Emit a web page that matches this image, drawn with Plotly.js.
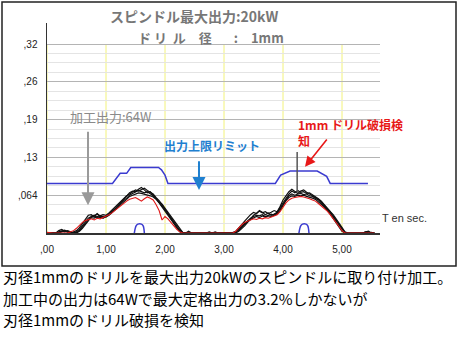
<!DOCTYPE html>
<html>
<head>
<meta charset="utf-8">
<script src="https://cdn.plot.ly/plotly-3.0.1.min.js"></script>
<style>html,body{margin:0;padding:0;background:#fff;}#chart{width:467px;height:353px;}</style>
</head>
<body>
<div id="chart"></div>
<script>
// ---- data ----
var t = [0,0.05,0.1,0.15,0.2,0.25,0.3,0.35,0.4,0.45,
0.5,0.55,0.6,0.65,0.7,0.75,0.8,0.85,0.9,0.95,
1,1.05,1.1,1.15,1.2,1.25,1.3,1.35,1.4,1.45,
1.5,1.55,1.6,1.65,1.7,1.75,1.8,1.85,1.9,1.95,
2,2.05,2.1,2.15,2.2,2.25,2.3,2.35,2.4,2.45,
2.5,2.55,2.6,2.65,2.7,2.75,2.8,2.85,2.9,2.95,
3,3.05,3.1,3.15,3.2,3.25,3.3,3.35,3.4,3.45,
3.5,3.55,3.6,3.65,3.7,3.75,3.8,3.85,3.9,3.95,
4,4.05,4.1,4.15,4.2,4.25,4.3,4.35,4.4,4.45,
4.5,4.55,4.6,4.65,4.7,4.75,4.8,4.85,4.9,4.95,
5,5.05,5.1,5.15,5.2,5.25,5.3,5.35,5.4,5.45,
5.5,5.55];

var black1 = [0,0,0,0,0.004,0.006,0.003,0.001,0,0.002,
0.004,0.009,0.016,0.024,0.030,0.031,0.027,0.033,0.029,0.031,
0.030,0.034,0.039,0.043,0.049,0.054,0.058,0.063,0.066,0.070,
0.073,0.071,0.074,0.076,0.072,0.069,0.066,0.060,0.055,0.048,
0.040,0.032,0.025,0.017,0.009,0.003,0,0,0.003,0,
0,0,0,0,0,0.002,0,0,0,0,
0,0,0,0,0.003,0.008,0.014,0.020,0.026,0.031,
0.035,0.033,0.037,0.034,0.036,0.033,0.035,0.038,0.036,0.044,
0.052,0.060,0.066,0.071,0.068,0.072,0.069,0.070,0.067,0.068,
0.065,0.062,0.058,0.054,0.048,0.043,0.036,0.029,0.022,0.014,
0.006,0.001,0,0,0,0,0,0,0.002,0.003,
0,0];

var black2 = [0,0,0,0,0.002,0.004,0.005,0.002,0,0,
0.002,0.006,0.012,0.019,0.025,0.028,0.030,0.026,0.029,0.027,
0.029,0.031,0.035,0.040,0.046,0.050,0.055,0.059,0.064,0.067,
0.069,0.072,0.070,0.068,0.070,0.067,0.063,0.058,0.052,0.046,
0.039,0.033,0.026,0.019,0.012,0.005,0.001,0,0,0,
0,0,0,0,0,0,0,0.002,0,0,
0,0,0,0.001,0.002,0.006,0.011,0.016,0.021,0.025,
0.028,0.030,0.029,0.031,0.028,0.030,0.032,0.030,0.034,0.041,
0.048,0.057,0.063,0.066,0.064,0.066,0.067,0.065,0.066,0.063,
0.062,0.059,0.056,0.051,0.046,0.040,0.034,0.027,0.020,0.012,
0.005,0,0,0,0,0,0,0,0,0,
0,0];

var black3 = [0,0,0,0,0.001,0.003,0.002,0.004,0.002,0,
0.001,0.004,0.010,0.017,0.022,0.026,0.025,0.028,0.026,0.028,
0.027,0.030,0.034,0.038,0.043,0.048,0.052,0.057,0.062,0.064,
0.066,0.068,0.067,0.066,0.065,0.063,0.061,0.057,0.051,0.044,
0.036,0.030,0.024,0.016,0.008,0.002,0,0,0,0,
0,0,0,0,0,0,0,0,0,0,
0,0,0,0,0.001,0.005,0.010,0.014,0.019,0.023,
0.026,0.028,0.026,0.029,0.027,0.029,0.028,0.030,0.032,0.038,
0.047,0.055,0.060,0.063,0.062,0.064,0.063,0.064,0.062,0.061,
0.059,0.057,0.053,0.049,0.044,0.039,0.032,0.025,0.018,0.010,
0.003,0,0,0,0,0,0,0,0,0,
0,0];

var black4 = [0,0,0,0,0,0.002,0.004,0.003,0.001,0,
0,0.003,0.008,0.015,0.021,0.027,0.029,0.032,0.028,0.025,
0.028,0.033,0.037,0.041,0.047,0.052,0.057,0.062,0.068,0.071,
0.070,0.074,0.077,0.073,0.068,0.070,0.064,0.059,0.053,0.049,
0.042,0.035,0.028,0.020,0.013,0.006,0.001,0,0,0,
0,0,0,0,0,0,0,0,0,0,
0,0,0,0,0,0.003,0.007,0.012,0.018,0.024,
0.030,0.033,0.038,0.035,0.031,0.034,0.030,0.032,0.035,0.045,
0.056,0.063,0.070,0.074,0.070,0.067,0.071,0.073,0.069,0.066,
0.064,0.061,0.057,0.052,0.047,0.042,0.037,0.031,0.024,0.016,
0.008,0.002,0,0,0,0,0,0,0.002,0,
0.001,0];

var red1 = [0.001,0,0,0,0,0,0,0,0.002,0.004,
0.008,0.013,0.018,0.021,0.023,0.024,0.022,0.025,0.024,0.026,
0.028,0.031,0.034,0.038,0.042,0.047,0.051,0.054,0.057,0.058,
0.060,0.057,0.054,0.058,0.061,0.059,0.056,0.048,0.038,0.022,
0.028,0.024,0.018,0.012,0.006,0.002,0,0,0,0,
0,0,0,0,0,0,0,0,0,0,
0,0,0,0,0.003,0.009,0.014,0.018,0.020,0.022,
0.024,0.023,0.025,0.024,0.026,0.025,0.027,0.029,0.031,0.036,
0.044,0.051,0.056,0.059,0.060,0.061,0.062,0.061,0.060,0.058,
0.056,0.054,0.050,0.046,0.042,0.037,0.031,0.025,0.018,0.011,
0.004,0,0,0,0,0,0,0,0,0,
0,0];

var limitT = [0,1.11,1.24,1.35,1.42,1.89,1.94,2.00,2.05,3.87,3.96,4.02,4.12,4.58,4.66,4.74,4.80,5.44];
var limitV = [0.084,0.084,0.101,0.101,0.111,0.111,0.107,0.098,0.084,0.084,0.098,0.101,0.105,0.105,0.101,0.096,0.084,0.084];

var pulseT = [1.48,1.51,1.54,1.60,1.63,1.65,null,4.27,4.30,4.33,4.39,4.42,4.44];
var pulseV = [0,0.012,0.015,0.015,0.012,0,null,0,0.012,0.015,0.015,0.012,0];

var detectT = [4.24,4.24];
var detectV = [0.137,0.068];

var xTickVals = [0,1,2,3,4,5];
var xTickText = [',00','1,00','2,00','3,00','4,00','5,00'];
var yTickVals = [0.064,0.128,0.192,0.256,0.32];
var yTickText = [',064',',13',',19',',26',',32'];
var yMinorVals = [0.016,0.032,0.048,0.08,0.096,0.112,0.144,0.16,0.176,0.208,0.224,0.24,0.272,0.288,0.304];
var yellowX = [0,1,2,3,4,5];

var titleLine1 = 'スピンドル最大出力:20kW';
var titleLine2 = 'ド\u00a0リ\u00a0\u00a0ル\u3000径\u3000\u00a0\u00a0\u00a0:\u30001mm';
var noteLines = ['刃径1mmのドリルを最大出力20kWのスピンドルに取り付け加工。',
                 '加工中の出力は64Wで最大定格出力の3.2%しかないが',
                 '刃径1mmのドリル破損を検知'];

// ---- layout helpers (pixel -> paper) ----
var L = 47, T = 23, W = 333, H = 210;
function PX(x){ return (x - L) / W; }
function PY(y){ return (T + H - y) / H; }

var jp = "Noto Sans CJK JP, sans-serif";

var traces = [];
traces.push({x: limitT, y: limitV, mode: 'lines', line: {color: '#3b3bd0', width: 1.5}, hoverinfo: 'skip'});
traces.push({x: pulseT, y: pulseV, mode: 'lines', line: {color: '#3b3bd0', width: 1.5, shape: 'spline'}, connectgaps: false, hoverinfo: 'skip'});
[black1, black2, black3, black4].forEach(function(s){
  traces.push({x: t, y: s, mode: 'lines', line: {color: '#111', width: 1.2}, hoverinfo: 'skip'});
});
traces.push({x: t, y: red1, mode: 'lines', line: {color: '#e01818', width: 1.1}, hoverinfo: 'skip'});
traces.push({x: detectT, y: detectV, mode: 'lines', line: {color: '#555', width: 1.5}, hoverinfo: 'skip'});

var shapes = yellowX.map(function(v){
  return {type: 'line', xref: 'x', yref: 'y', x0: v, x1: v, y0: 0, y1: 0.32, layer: 'below',
          line: {color: '#f2f27a', width: 1}};
});
shapes.push({type: 'rect', xref: 'paper', yref: 'paper', x0: PX(2), x1: PX(456), y0: PY(266), y1: PY(2),
             line: {color: '#222', width: 1.5}, layer: 'above'});

var titleFont = {family: jp, size: 14, color: '#777', weight: 'bold'};
var line2Font = {family: jp, size: 13, color: '#777', weight: 'bold'};

var annotations = [
  {text: titleLine1, xref: 'paper', yref: 'paper', x: PX(194), y: PY(16), showarrow: false,
   font: titleFont, xanchor: 'center', yanchor: 'middle', borderpad: 0},
  {text: titleLine2, xref: 'paper', yref: 'paper', x: PX(137), y: PY(37), showarrow: false,
   font: line2Font, xanchor: 'left', yanchor: 'middle', borderpad: 0},

  {text: '加工出力:64W', xref: 'paper', yref: 'paper', x: PX(68), y: PY(116), xanchor: 'left', showarrow: false,
   font: {family: jp, size: 13, color: '#8a8a8a'}},
  {text: '', xref: 'x', yref: 'y', x: 0.695, y: 0.047, axref: 'x', ayref: 'y', ax: 0.695, ay: 0.174,
   showarrow: true, arrowhead: 2, arrowsize: 1.3, arrowwidth: 2, arrowcolor: '#9a9a9a', standoff: 0},

  {text: '出力上限リミット', xref: 'paper', yref: 'paper', x: PX(162), y: PY(145), xanchor: 'left', showarrow: false,
   font: {family: jp, size: 12, color: '#1f80d0', weight: 'bold'}},
  {text: '', xref: 'x', yref: 'y', x: 2.576, y: 0.073, axref: 'x', ayref: 'y', ax: 2.576, ay: 0.124,
   showarrow: true, arrowhead: 2, arrowsize: 1.3, arrowwidth: 2, arrowcolor: '#1f80d0', standoff: 0},

  {text: '1mm ドリル破損検<br>知', xref: 'paper', yref: 'paper', x: PX(296), y: PY(114), xanchor: 'left', yanchor: 'top',
   align: 'left', showarrow: false, font: {family: jp, size: 12, color: '#e81818', weight: 'bold'}},
  {text: '', xref: 'x', yref: 'y', x: 4.373, y: 0.112, axref: 'x', ayref: 'y', ax: 4.763, ay: 0.161,
   showarrow: true, arrowhead: 2, arrowsize: 1.3, arrowwidth: 1.6, arrowcolor: '#e81818', standoff: 0},

  {text: 'T en sec.', xref: 'paper', yref: 'paper', x: PX(380), y: PY(226), xanchor: 'left', showarrow: false,
   font: {family: 'Liberation Sans, Arial, sans-serif', size: 11, color: '#333'}}
];
var noteY = [289, 311, 332];
noteLines.forEach(function(s, i){
  annotations.push({text: s, xref: 'paper', yref: 'paper', x: PX(1), y: PY(noteY[i]),
    xanchor: 'left', showarrow: false, font: {family: jp, size: 15, color: '#000'}});
});

var layout = {
  width: 467, height: 353,
  margin: {l: L, r: 467 - L - W, t: T, b: 353 - T - H, pad: 0},
  paper_bgcolor: '#fff', plot_bgcolor: '#fff',
  showlegend: false,
  xaxis: {range: [0, 5.644], showgrid: false, zeroline: false, showline: true, linecolor: '#333', linewidth: 1.5,
          tickmode: 'array', tickvals: xTickVals, ticktext: xTickText, ticks: '', ticklabelstandoff: 6,
          tickfont: {family: 'Liberation Sans, Arial, sans-serif', size: 10, color: '#222'}, fixedrange: true},
  yaxis: {range: [0, 0.3556], showgrid: true, gridcolor: '#b4b4b4', gridwidth: 1, zeroline: false,
          showline: true, linecolor: '#333', linewidth: 1.5,
          tickmode: 'array', tickvals: yTickVals, ticktext: yTickText, ticks: '', ticklabelstandoff: 6,
          tickfont: {family: 'Liberation Sans, Arial, sans-serif', size: 10, color: '#222'},
          minor: {tickmode: 'array', tickvals: yMinorVals, showgrid: true, gridcolor: '#e4e4e4', gridwidth: 1, ticks: ''},
          fixedrange: true},
  shapes: shapes,
  annotations: annotations
};

Plotly.newPlot('chart', traces, layout, {displayModeBar: false, staticPlot: true});
</script>
</body>
</html>
